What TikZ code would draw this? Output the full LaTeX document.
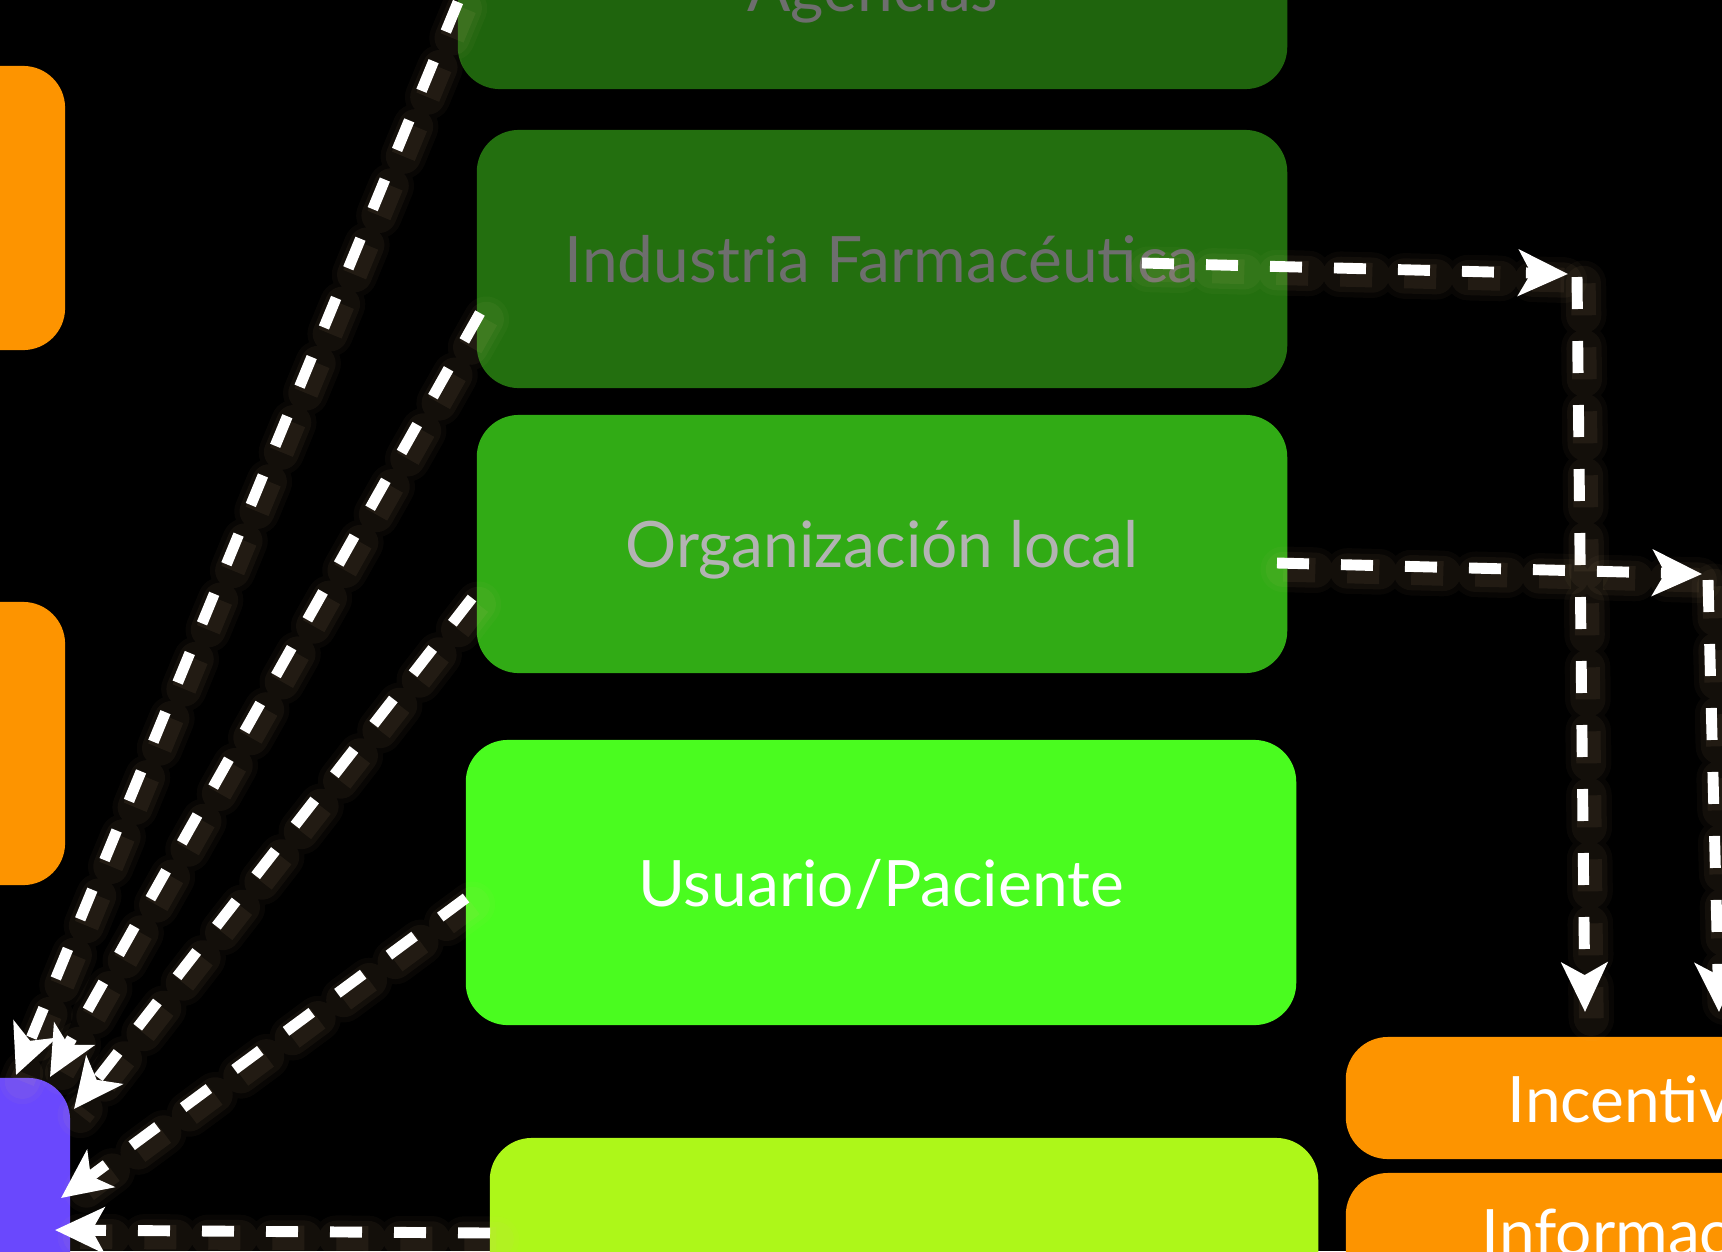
\documentclass[tikz,border=0pt]{standalone}
\usepackage{fontspec}
\setmainfont{Lato}
\usetikzlibrary{arrows.meta}
\definecolor{agc}{HTML}{1F640D}
\definecolor{indc}{HTML}{236F0F}
\definecolor{orgc}{HTML}{31AB15}
\definecolor{usuc}{HTML}{4AFC1F}
\definecolor{limec}{HTML}{ADF719}
\definecolor{orc}{HTML}{FD9400}
\definecolor{purc}{HTML}{6A48FD}
\definecolor{darkt}{HTML}{6E6E6E}
\definecolor{lightt}{HTML}{B3B3B3}
\definecolor{glowc}{HTML}{E8C48A}
\tikzset{
  box/.style={rounded corners=0.42cm, inner sep=0pt, draw=none,
    font=\fontsize{18.2}{22}\selectfont, text height=0.47cm, text depth=0pt},
  lbl/.style={inner sep=0pt, font=\fontsize{18.2}{22}\selectfont},
  conn/.style={draw=white, line width=3.1pt, dash pattern=on 9.1pt off 9.1pt,
    -{Stealth[length=14pt,width=13pt,inset=3.5pt]},
    preaction={draw=glowc, line width=13pt, opacity=0.035, -, line cap=round,
      dash pattern=on 9.1pt off 9.1pt, transform canvas={shift={(1.8pt,-1.8pt)}}},
    preaction={draw=glowc, line width=10pt, opacity=0.05, -, line cap=round,
      dash pattern=on 9.1pt off 9.1pt, transform canvas={shift={(1.8pt,-1.8pt)}}},
    preaction={draw=glowc, line width=7pt, opacity=0.07, -,
      dash pattern=on 9.1pt off 9.1pt, transform canvas={shift={(1.8pt,-1.8pt)}}}}
}
\begin{document}
\begin{tikzpicture}[x=0.01cm, y=-0.01cm]
\useasboundingbox (0,0) rectangle (1722,1251);
\fill[black] (0,0) rectangle (1722,1251);
\clip (0,0) rectangle (1722,1251);
% left column
\node[box, fill=orc, minimum width=3.65cm, minimum height=2.84cm] (l1) at (-117.5,208) {};
\node[box, fill=orc, minimum width=3.65cm, minimum height=2.83cm] (l2) at (-117.5,743.5) {};
\node[box, fill=purc, minimum width=3.70cm, minimum height=3.22cm] (pu) at (-115,1239) {};
% centre column
\node[box, fill=agc, minimum width=8.29cm, minimum height=2.58cm] (ag) at (872.5,-40) {};
\node[lbl, anchor=base, text=darkt] (agt) at (873,11) {Agencias};
\node[box, fill=indc, text=darkt, minimum width=8.10cm, minimum height=2.58cm] (ind) at (882,259) {Industria Farmacéutica};
\node[box, fill=orgc, text=lightt, minimum width=8.10cm, minimum height=2.58cm] (org) at (882,544) {Organización local};
\node[box, fill=usuc, text=white, minimum width=8.30cm, minimum height=2.85cm] (usu) at (881,882.5) {Usuario/Paciente};
\node[box, fill=limec, minimum width=8.28cm, minimum height=2.62cm] (lime) at (904,1269) {};
% right column
\node[box, fill=orc, minimum width=7.54cm, minimum height=1.22cm] (inc) at (1723,1098) {};
\node[lbl, anchor=base west, text=white] (inct) at (1507,1122) {Incentivos};
\node[box, fill=orc, minimum width=7.54cm, minimum height=1.27cm] (inf) at (1723,1236.5) {};
\node[lbl, anchor=base west, text=white] (inft) at (1481,1255) {Información};
% connector points
\coordinate (s1) at (458,2);
\coordinate (s2) at (480,313);
\coordinate (s3) at (472,598);
\coordinate (s4) at (466,898);
\coordinate (s5) at (490,1233);
\coordinate (t1) at (16,1075);
\coordinate (t2) at (50,1077);
\coordinate (t3) at (74,1109);
\coordinate (t4) at (61,1198);
\coordinate (t5) at (55,1230);
\coordinate (r1s) at (1142,263);
\coordinate (r1e) at (1568,274);
\coordinate (r1c) at (1577,277);
\coordinate (r1d) at (1585,1012);
\coordinate (r2s) at (1277,563);
\coordinate (r2e) at (1702,574);
\coordinate (r2c) at (1708,580);
\coordinate (r2d) at (1719,1012);
% connectors
\draw[conn] (s1) -- (t1);
\draw[conn] (s2) -- (t2);
\draw[conn] (s3) -- (t3);
\draw[conn] (s4) -- (t4);
\draw[conn] (s5) -- (t5);
\draw[conn] (r1s) -- (r1e);
\draw[conn] (r1c) -- (r1d);
\draw[conn] (r2s) -- (r2e);
\draw[conn] (r2c) -- (r2d);
\end{tikzpicture}
\end{document}
